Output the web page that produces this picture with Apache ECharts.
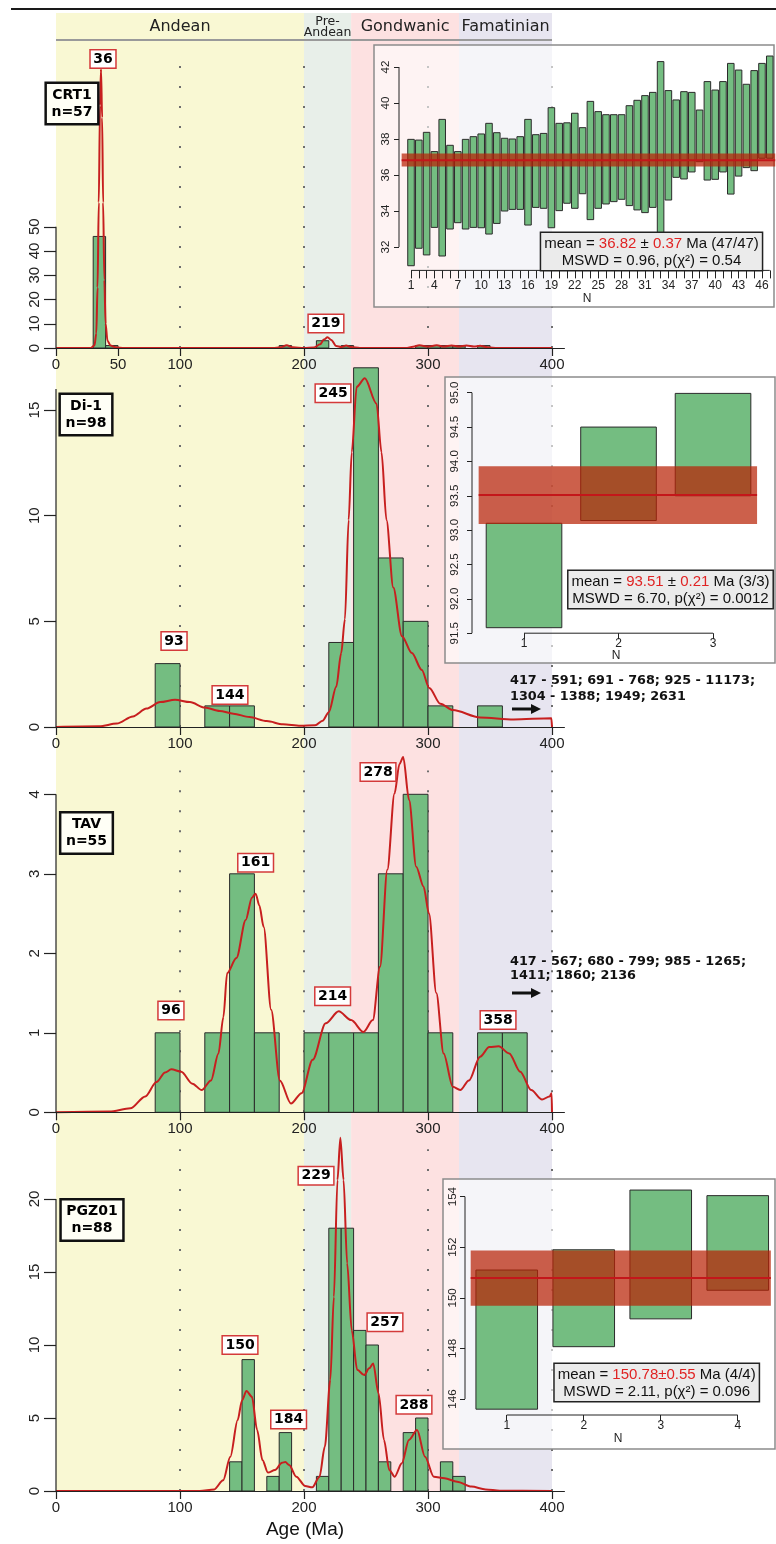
<!DOCTYPE html>
<html><head><meta charset="utf-8">
<script src="https://cdn.jsdelivr.net/npm/echarts@6/dist/echarts.min.js"></script>
<style>html,body{margin:0;padding:0;background:#fff}#c{width:776px;height:1544px}</style>
</head><body><div id="c"></div>
<script>
// ================= DATA =================
const bandEdges = [0, 200, 238, 325, 400];
const bandNames = ['Andean', 'Pre-\nAndean', 'Gondwanic', 'Famatinian'];
const sampleNames = ['CRT1\nn=57', 'Di-1\nn=98', 'TAV\nn=55', 'PGZ01\nn=88'];

// histograms: [binStart, binEnd, count]
const histCRT1 = [[30,40,46],[40,50,1],[180,190,1],[210,220,3],[230,240,1],[290,300,1],[300,310,1],[310,320,1],[320,330,1],[340,350,1]];
const histDi1 = [[80,100,3],[120,140,1],[140,160,1],[220,240,4],[240,260,17],[260,280,8],[280,300,5],[300,320,1],[340,360,1]];
const histTAV = [[80,100,1],[120,140,1],[140,160,3],[160,180,1],[200,220,1],[220,240,1],[240,260,1],[260,280,3],[280,300,4],[300,320,1],[340,360,1],[360,380,1]];
const histPGZ01 = [[140,150,2],[150,160,9],[170,180,1],[180,190,4],[210,220,1],[220,230,18],[230,240,18],[240,250,11],[250,260,10],[260,270,2],[280,290,4],[290,300,5],[310,320,2],[320,330,1]];

// KDE curves (age, density in count units)
const kdeCRT1 = [[0,0],[28,0],[31,1],[32.5,6],[33.5,25],[34.5,60],[35.5,100],[36.3,115],[37.2,95],[38,60],[39,28],[40,10],[41.5,3],[44,1],[48,0.3],[55,0],[175,0],[181,0.3],[186,1.1],[191,0.3],[200,0],[208,0.2],[213,1.5],[216,3.5],[219,4.4],[222,3.3],[226,0.8],[230,0.4],[234,1.0],[238,0.4],[245,0],[282,0],[288,0.5],[293,1.1],[300,0.6],[307,1.1],[313,0.6],[319,1.0],[325,0.6],[331,1.0],[337,0.6],[342,0.9],[348,0.3],[356,0],[400,0]];
const kdeDi1 = [[0,0],[35,0.03],[49,0.16],[62,0.5],[73,0.87],[84,1.18],[96,1.29],[108,1.18],[120,0.92],[132,0.76],[143,0.63],[156,0.47],[170,0.28],[183,0.13],[197,0.06],[209,0.08],[215,0.3],[220,0.7],[226,1.9],[230,3.5],[233,5.1],[236,9.8],[238.5,13],[242.5,16.1],[249,16.5],[258.5,15.3],[262.5,13],[266.5,9.8],[272,6.6],[279,4.3],[287,3.5],[295,2.7],[301,1.85],[310,1.1],[320,0.8],[342,0.45],[369,0.36],[399.5,0.41],[400,0]];
const kdeTAV = [[0,0],[43,0.01],[60,0.05],[72,0.2],[81,0.38],[88,0.5],[93,0.54],[101,0.51],[110,0.36],[117.5,0.28],[125,0.4],[131,0.74],[135,1.2],[138,1.75],[145.5,1.94],[153,2.42],[158,2.7],[161,2.75],[164,2.6],[167.5,2.33],[173.5,1.29],[180.5,0.4],[189.5,0.11],[198,0.24],[207,0.66],[217.5,1.12],[228,1.27],[238,1.16],[248,1.01],[255.5,1.16],[261.3,1.83],[267.2,3.05],[273,4.01],[277,4.38],[280,4.47],[284.7,3.93],[290.5,3.09],[296.4,2.84],[300.8,2.5],[306.7,1.5],[312.6,0.74],[320,0.32],[326,0.28],[333,0.4],[342,0.7],[349.4,0.82],[357,0.83],[365.5,0.74],[374.4,0.51],[383.2,0.28],[392,0.16],[398,0.2],[399.7,0.24],[400,0]];
const kdePGZ01 = [[0,0],[116,0],[127.6,0.11],[134.8,0.74],[140.6,2.35],[146.5,4.86],[150,6.2],[153.6,6.85],[158,6.45],[162.2,4.18],[166.5,2.12],[170.9,1.26],[176.6,1.44],[182.3,1.94],[185,1.98],[188,1.78],[193.8,0.98],[201,0.34],[206.7,0.25],[212.5,0.98],[216.8,3.04],[221.2,7.6],[224.1,13.3],[227,21.3],[229.3,24.2],[231.9,21.3],[234.8,15.6],[238.5,11.0],[242.9,8.3],[248.6,7.94],[252.5,8.4],[255.8,8.74],[260.1,6.7],[264.5,3.5],[268.8,1.44],[273.1,0.98],[278.9,1.9],[284.6,3.5],[291.2,4.18],[297.6,2.35],[304.7,0.98],[313.4,0.87],[323.5,0.64],[335,0.3],[346.5,0.11],[358,0.02],[400,0]];

// peak ages
const peaksCRT1 = ['36','219'];
const peaksDi1 = ['93','144','245'];
const peaksTAV = ['96','161','214','278','358'];
const peaksPGZ01 = ['150','184','229','257','288'];

// tick labels
const xTicksTop = [0,50,100,200,300,400];
const xTicks = [0,100,200,300,400];
const yTicksCRT1 = [0,10,20,30,40,50];
const yTicksDi1 = [0,5,10,15];
const yTicksTAV = [0,1,2,3,4];
const yTicksPGZ01 = [0,5,10,15,20];
const gridAges = [100,200,300,400];

// weighted-mean insets (ranges lo/hi per analysis)
const inset1Lo = [30.96,31.93,31.56,33.09,31.5,33.0,33.35,33.0,33.09,33.07,32.72,33.31,34.0,34.09,34.09,33.22,34.2,34.15,33.07,34.02,34.43,34.15,34.96,33.52,34.15,34.39,34.52,34.65,34.3,34.06,33.91,34.2,32.8,34.61,35.87,35.78,36.17,36.74,35.72,35.76,36.17,34.94,35.94,36.41,36.24,36.93,36.93];
const inset1Hi = [37.98,37.94,38.37,37.30,39.09,37.65,37.30,37.98,38.13,38.28,38.87,38.35,38.04,38.0,38.13,39.09,38.24,38.31,39.74,38.87,38.9,39.43,38.63,40.09,39.52,39.35,39.35,39.35,39.85,40.15,40.41,40.59,42.3,40.69,40.17,40.63,40.59,39.61,41.19,40.72,41.19,42.2,41.83,41.04,41.8,42.2,42.61];
const inset1Mean = 36.82, inset1Err = 0.37, inset1Band = [36.47, 37.19], inset1Count = '47/47', inset1Mswd = '0.96', inset1P = '0.54';
const inset1YTicks = [32,34,36,38,40,42];
const inset1XTicks = [1,2,3,4,5,6,7,8,9,10,11,12,13,14,15,16,17,18,19,20,21,22,23,24,25,26,27,28,29,30,31,32,33,34,35,36,37,38,39,40,41,42,43,44,45,46,47];
const inset1XLabels = [1,4,7,10,13,16,19,22,25,28,31,34,37,40,43,46];

const inset2Lo = [91.58, 93.14, 93.5];
const inset2Hi = [93.1, 94.5, 94.99];
const inset2Mean = 93.51, inset2Err = 0.21, inset2Band = [93.09, 93.93], inset2Count = '3/3', inset2Mswd = '6.70', inset2P = '0.0012';
const inset2YTicks = [91.5,92.0,92.5,93.0,93.5,94.0,94.5,95.0];
const inset2XTicks = [1,2,3];

const inset4Lo = [145.6, 148.07, 149.17, 150.3];
const inset4Hi = [151.1, 151.9, 154.26, 154.04];
const inset4Mean = 150.78, inset4Err = 0.55, inset4Band = [149.69, 151.87], inset4Count = '4/4', inset4Mswd = '2.11', inset4P = '0.096';
const inset4YTicks = [146,148,150,152,154];
const inset4XTicks = [1,2,3,4];

// ================= LAYOUT =================
const bandColors = ['#f9f8d3', '#e8efe9', '#fde1e1', '#e7e5f0'];
const GREEN = '#74bd81', RED = '#c71f1f';
const PX_PER_MA = 1.24;
const panels = [
  {axisY:348, ymax:120, ppu:2.425, yTicks:yTicksCRT1, yLineTop:50, xTicks:xTicksTop, hist:histCRT1, kde:kdeCRT1, peaks:peaksCRT1,
   peakPos:[[37.9,119.2],[217.7,10.1]], box:[72,103.5]},
  {axisY:727, ymax:16.6, ppu:21.13, yTicks:yTicksDi1, yLineTop:16, xTicks:xTicks, hist:histDi1, kde:kdeDi1, peaks:peaksDi1,
   peakPos:[[95.2,4.07],[140.3,1.51],[223.4,15.8]], box:[86,414.5]},
  {axisY:1112.3, ymax:4.3, ppu:79.5, yTicks:yTicksTAV, yLineTop:4, xTicks:xTicks, hist:histTAV, kde:kdeTAV, peaks:peaksTAV,
   peakPos:[[92.7,1.28],[161,3.14],[223.1,1.46],[259.7,4.28],[356.5,1.16]], box:[86.5,833]},
  {axisY:1491, ymax:23.4, ppu:14.6, yTicks:yTicksPGZ01, yLineTop:20, xTicks:xTicks, hist:histPGZ01, kde:kdePGZ01, peaks:peaksPGZ01,
   peakPos:[[148.4,10.0],[187.6,4.9],[209.7,21.6],[265.3,11.55],[288.7,5.9]], box:[92,1220]}
];
const insets = [
  {left:399, top:49, width:376, height:221.4, xmin:-0.54, xmax:47.67, ymin:30.7, ymax:43, lo:inset1Lo, hi:inset1Hi,
   band:inset1Band, mean:inset1Mean, bandX:[-0.2,47.7], yTicks:inset1YTicks, xTicks:inset1XTicks, xLabels:inset1XLabels,
   tickLen:8, labMargin:9, nameGap:21, yLabMargin:7, dec:0, hw:0.42,
   frame:[374,45,400,262], text:[651.5,251.5],
   str:'mean = {r|'+inset1Mean.toFixed(2)+'} ± {r|'+inset1Err.toFixed(2)+'} Ma ('+inset1Count+')\nMSWD = '+inset1Mswd+', p(χ²) = '+inset1P},
  {left:472, top:382.4, width:288, height:250.8, xmin:0.4497, xmax:3.497, ymin:91.5, ymax:95.15, lo:inset2Lo, hi:inset2Hi,
   band:inset2Band, mean:inset2Mean, bandX:[0.52,3.466], yTicks:inset2YTicks, xTicks:inset2XTicks, xLabels:inset2XTicks,
   tickLen:6, labMargin:4, nameGap:16, yLabMargin:11, dec:1, hw:0.4,
   frame:[445,377,330,286], text:[670.5,589.5],
   str:'mean = {r|'+inset2Mean.toFixed(2)+'} ± {r|'+inset2Err.toFixed(2)+'} Ma ('+inset2Count+')\nMSWD = '+inset2Mswd+', p(χ²) = '+inset2P},
  {left:465, top:1185, width:306, height:230, xmin:0.458, xmax:4.432, ymin:145.37, ymax:154.46, lo:inset4Lo, hi:inset4Hi,
   band:inset4Band, mean:inset4Mean, bandX:[0.532,4.43], yTicks:inset4YTicks, xTicks:inset4XTicks, xLabels:inset4XTicks,
   tickLen:6, labMargin:5, nameGap:17, yLabMargin:6, dec:0, hw:0.4,
   frame:[443,1179,332,270], text:[656.7,1382.5],
   str:'mean = {r|'+inset4Mean.toFixed(2)+'±'+inset4Err.toFixed(2)+'} Ma ('+inset4Count+')\nMSWD = '+inset4Mswd+', p(χ²) = '+inset4P}
];

// ================= OPTION =================
const AX = '#222';
const grid = [{left:56, top:13, width:496, height:1478}];
const xAxis = [{gridIndex:0, type:'value', min:bandEdges[0], max:bandEdges[bandEdges.length-1], show:false}];
const yAxis = [{gridIndex:0, type:'value', min:0, max:1, show:false}];
const series = [];

series.push({
  type:'custom', xAxisIndex:0, yAxisIndex:0, z:0, silent:true, clip:false,
  data: bandNames.map((n,i)=>[bandEdges[i], bandEdges[i+1]]),
  renderItem:(params, api)=>{
    const i = params.dataIndex;
    const a = api.coord([api.value(0),1]), b = api.coord([api.value(1),0]);
    const small = i===1;
    return {type:'group', children:[
      {type:'rect', shape:{x:a[0], y:a[1], width:b[0]-a[0], height:b[1]-a[1]}, style:{fill:bandColors[i]}},
      {type:'text', x:(a[0]+b[0])/2, y:a[1]+14, z2:5, style:{text:bandNames[i], align:'center', verticalAlign:'middle',
        fontFamily:'DejaVu Sans', fontSize: small?12.5:16, lineHeight: small?11:20, fill:'#222'}}
    ]};
  }
});

panels.forEach((p, k)=>{
  const gi = k+1;
  grid.push({left:56, top:p.axisY - p.ymax*p.ppu, width:410*PX_PER_MA, height:p.ymax*p.ppu});
  xAxis.push({gridIndex:gi, type:'value', min:0, max:410, z:5,
    axisLine:{show:true, onZero:false, lineStyle:{color:AX, width:1.2}},
    axisTick:{show:true, length:8, customValues:p.xTicks, lineStyle:{color:AX, width:1.2}},
    axisLabel:{show:true, customValues:p.xTicks, margin:9, fontSize:15, fontFamily:'Liberation Sans', color:AX},
    splitLine:{show:false}});
  yAxis.push({gridIndex:gi, type:'value', min:0, max:p.ymax, z:5,
    axisLine:{show:false},
    axisTick:{show:true, length:12, customValues:p.yTicks, lineStyle:{color:AX, width:1.2}},
    axisLabel:{show:true, customValues:p.yTicks, rotate:90, margin:14, fontSize:15, fontFamily:'Liberation Sans', color:AX},
    splitLine:{show:false}});
  // dotted reference lines
  series.push({type:'custom', xAxisIndex:gi, yAxisIndex:gi, z:1, silent:true, clip:false, data:gridAges.map(a=>[a]),
    renderItem:(params, api)=>{
      const a = api.coord([api.value(0),0]), b = api.coord([api.value(0),p.ymax]);
      return {type:'line', shape:{x1:a[0], y1:a[1], x2:b[0], y2:b[1]}, style:{stroke:'#6e6e6e', lineWidth:2, lineDash:[2,18]}};
    }});
  // histogram
  series.push({type:'custom', xAxisIndex:gi, yAxisIndex:gi, z:3, silent:true, clip:false, data:p.hist,
    renderItem:(params, api)=>{
      const a = api.coord([api.value(0), api.value(2)]), b = api.coord([api.value(1), 0]);
      return {type:'rect', shape:{x:a[0], y:a[1], width:b[0]-a[0], height:b[1]-a[1]}, style:{fill:GREEN, stroke:'#2b2b2b', lineWidth:1}};
    }});
  // KDE
  series.push({type:'line', xAxisIndex:gi, yAxisIndex:gi, z:4, data:p.kde, smooth:0.3, smoothMonotone:'x',
    showSymbol:false, symbol:'none', clip:false, silent:true, lineStyle:{color:RED, width:2}});
  // y axis line (0 .. last tick)
  series.push({type:'custom', xAxisIndex:gi, yAxisIndex:gi, z:5, silent:true, clip:false, data:[[0,0,0,p.yLineTop]],
    renderItem:(params, api)=>{
      const a = api.coord([api.value(0),api.value(1)]), b = api.coord([api.value(2),api.value(3)]);
      return {type:'line', shape:{x1:a[0], y1:a[1], x2:b[0], y2:b[1]}, style:{stroke:AX, lineWidth:1.2}};
    }});
  // peak labels
  series.push({type:'custom', xAxisIndex:gi, yAxisIndex:gi, z:6, silent:true, clip:false,
    data:p.peakPos.map(v=>[v[0], v[1]]),
    renderItem:(params, api)=>{
      const c = api.coord([api.value(0), api.value(1)]);
      return {type:'text', x:c[0], y:c[1], style:{text:p.peaks[params.dataIndex], align:'center', verticalAlign:'middle',
        fontFamily:'DejaVu Sans', fontWeight:'bold', fontSize:14, lineHeight:15, fill:'#000',
        backgroundColor:'#ffffff', borderColor:'#d43a3a', borderWidth:1.5, padding:[2,2.5,0,2.5]}};
    }});
});

insets.forEach((s, k)=>{
  const gi = panels.length + 1 + k;
  grid.push({left:s.left, top:s.top, width:s.width, height:s.height});
  xAxis.push({gridIndex:gi, type:'value', min:s.xmin, max:s.xmax, z:5,
    name:'N', nameLocation:'middle', nameGap:s.nameGap, nameTextStyle:{fontSize:12, fontFamily:'Liberation Sans', color:AX},
    axisLine:{show:false, onZero:false},
    axisTick:{show:true, length:s.tickLen, customValues:s.xTicks, lineStyle:{color:AX, width:1}},
    axisLabel:{show:true, customValues:s.xLabels, margin:s.labMargin, fontSize:12, fontFamily:'Liberation Sans', color:AX},
    splitLine:{show:false}});
  yAxis.push({gridIndex:gi, type:'value', min:s.ymin, max:s.ymax, z:5,
    axisLine:{show:false, onZero:false},
    axisTick:{show:true, length:5, customValues:s.yTicks, lineStyle:{color:AX, width:1}},
    axisLabel:{show:true, customValues:s.yTicks, rotate:90, margin:s.yLabMargin, fontSize:11.5, fontFamily:'Liberation Sans', color:AX,
      formatter:(v)=>Number(v).toFixed(s.dec)},
    splitLine:{show:false}});
  series.push({type:'custom', xAxisIndex:gi, yAxisIndex:gi, z:7, silent:true, clip:false,
    data:s.lo.map((l,i)=>[i+1, l, s.hi[i]]),
    renderItem:(params, api)=>{
      const x = api.value(0);
      const a = api.coord([x - s.hw, api.value(2)]), b = api.coord([x + s.hw, api.value(1)]);
      return {type:'rect', shape:{x:a[0], y:a[1], width:b[0]-a[0], height:b[1]-a[1]}, style:{fill:GREEN, stroke:'#2b2b2b', lineWidth:1}};
    }});
  series.push({type:'custom', xAxisIndex:gi, yAxisIndex:gi, z:8, silent:true, clip:false,
    data:[[s.bandX[0], s.bandX[1], s.band[0], s.band[1], s.mean]],
    renderItem:(params, api)=>{
      const a = api.coord([api.value(0), api.value(3)]), b = api.coord([api.value(1), api.value(2)]);
      const m1 = api.coord([api.value(0), api.value(4)]), m2 = api.coord([api.value(1), api.value(4)]);
      return {type:'group', children:[
        {type:'rect', shape:{x:a[0], y:a[1], width:b[0]-a[0], height:b[1]-a[1]}, style:{fill:'rgba(185,35,5,0.72)'}},
        {type:'line', shape:{x1:m1[0], y1:m1[1], x2:m2[0], y2:m2[1]}, style:{stroke:'#c4161a', lineWidth:2}}
      ]};
    }});
  const yT = s.yTicks;
  series.push({type:'custom', xAxisIndex:gi, yAxisIndex:gi, z:9, silent:true, clip:false,
    data:[[s.xmin, yT[0], s.xmin, yT[yT.length-1]], [s.xTicks[0], s.ymin, s.xTicks[s.xTicks.length-1], s.ymin]],
    renderItem:(params, api)=>{
      const a = api.coord([api.value(0),api.value(1)]), b = api.coord([api.value(2),api.value(3)]);
      return {type:'line', shape:{x1:a[0], y1:a[1], x2:b[0], y2:b[1]}, style:{stroke:AX, lineWidth:1}};
    }});
});

// decorations / annotation text
const elements = [];
elements.push({type:'line', z:20, shape:{x1:11, y1:9, x2:776, y2:9}, style:{stroke:'#1a1a1a', lineWidth:2}});
elements.push({type:'line', z:20, shape:{x1:56, y1:40, x2:552, y2:40}, style:{stroke:'#9a9a9a', lineWidth:2}});
insets.forEach(s=>{
  const f = s.frame;
  elements.push({type:'rect', z:2, shape:{x:f[0], y:f[1], width:f[2], height:f[3]}, style:{fill:'rgba(255,255,255,0.6)', stroke:'#8c8c8c', lineWidth:1.5}});
  elements.push({type:'text', z:30, x:s.text[0], y:s.text[1], style:{text:s.str, align:'center', verticalAlign:'middle',
    fontFamily:'Liberation Sans', fontSize:15, lineHeight:17, fill:'#111', backgroundColor:'#ebebeb', borderColor:'#222', borderWidth:1.5,
    padding:[2,3,1,3], rich:{r:{fill:'#e02323', color:'#e02323', fontFamily:'Liberation Sans', fontSize:15, lineHeight:17}}}});
});
panels.forEach((p,k)=>{
  elements.push({type:'text', z:30, x:p.box[0], y:p.box[1], style:{text:sampleNames[k], align:'center', verticalAlign:'middle',
    fontFamily:'DejaVu Sans', fontWeight:'bold', fontSize:14, lineHeight:17, fill:'#000', backgroundColor:'#fffff6',
    borderColor:'#111', borderWidth:2.5, padding:[3,4.5,2,4.5]}});
});
const outliers = [
  {x:510, y:673, lh:16, text:'417 - 591; 691 - 768; 925 - 11173;\n1304 - 1388; 1949; 2631', ay:709},
  {x:510, y:954, lh:14.5, text:'417 - 567; 680 - 799; 985 - 1265;\n1411; 1860; 2136', ay:993}
];
outliers.forEach(o=>{
  elements.push({type:'text', z:30, x:o.x, y:o.y, style:{text:o.text, align:'left', verticalAlign:'top', fontFamily:'DejaVu Sans',
    fontWeight:'bold', fontSize:12.8, lineHeight:o.lh, fill:'#111'}});
  elements.push({type:'line', z:30, shape:{x1:512, y1:o.ay, x2:533, y2:o.ay}, style:{stroke:'#111', lineWidth:3}});
  elements.push({type:'polygon', z:30, shape:{points:[[531,o.ay-5],[541,o.ay],[531,o.ay+5]]}, style:{fill:'#111'}});
});
elements.push({type:'text', z:30, x:305, y:1530, style:{text:'Age (Ma)', align:'center', verticalAlign:'middle',
  fontFamily:'Liberation Sans', fontSize:19, fill:'#111'}});

const chart = echarts.init(document.getElementById('c'), null, {renderer:'canvas', width:776, height:1544});
chart.setOption({animation:false, backgroundColor:'#fff', grid, xAxis, yAxis, series, graphic:{elements}});
</script>
</body></html>
